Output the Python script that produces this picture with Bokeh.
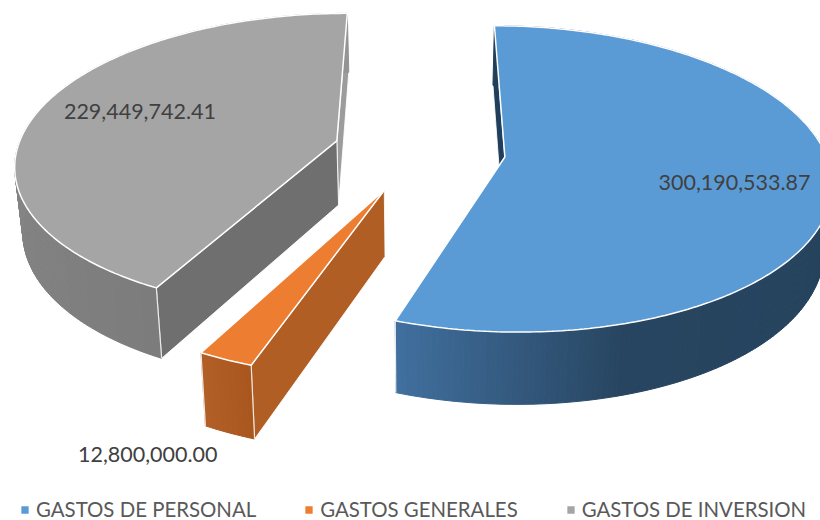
import numpy as np
from bokeh.plotting import figure
from bokeh.models import Range1d, Legend, LegendItem
from bokeh.core.properties import value
from bokeh.embed import file_html
from bokeh.resources import INLINE

categories = ["GASTOS DE PERSONAL", "GASTOS GENERALES", "GASTOS DE INVERSION"]
amounts = [300190533.87, 12800000.00, 229449742.41]
top_colors = ["#5B9BD5", "#ED7D31", "#A5A5A5"]
wall_stops = [
    [(0.0, "#233F57"), (0.82, "#274560"), (1.0, "#41709F")],
    [(0.0, "#A8571F"), (1.0, "#B25F26")],
    [(0.0, "#7C7C7C"), (1.0, "#949494")],
]
start_face = ["#1F3F5C", "#B05E24", "#6F6F6F"]
end_face = ["#233F57", "#A8571F", "#9C9C9C"]

# view of the 3-D pie
XC, YC, R, K, P, Q, D = 421.0, 150.0, 320.0, 0.463, 0.142, 0.02, 66.0
START = 0.0
EXPLODE = [84.0, 90.0, 88.0]
LABEL_RADIUS = [0.71, 1.44, 0.68]
LABEL_ROT = [4.0, -1.0, 4.0]


def project(X, V, h=0.0):
    X, V = np.asarray(X, float), np.asarray(V, float)
    s = (1 - Q * h) / (1 + P * V / R)
    return XC + X * s, YC + (-K * V + D * h) * s


def hex_rgb(c):
    return np.array([int(c[i:i + 2], 16) for i in (1, 3, 5)], float)


def shade(stops, t):
    fr = [a for a, _ in stops]
    rgb = [np.interp(t, fr, [hex_rgb(c)[i] for _, c in stops]) for i in range(3)]
    return "#%02x%02x%02x" % tuple(int(round(v)) for v in rgb)


p = figure(width=820, height=520, x_range=Range1d(0, 820), y_range=Range1d(520, 0),
           x_axis_type=None, y_axis_type=None, toolbar_location=None,
           output_backend="svg", min_border=0, outline_line_color=None)
p.grid.visible = False
p.styles = {"position": "absolute", "left": "0", "top": "0"}

total = sum(amounts)
sweeps = [a / total * 360 for a in amounts]
starts = START + np.concatenate([[0], np.cumsum(sweeps)[:-1]])
legend_items = []

for i, cat in enumerate(categories):
    a1, a2 = np.radians(starts[i]), np.radians(starts[i] + sweeps[i])
    mid = (a1 + a2) / 2
    ox, ov = EXPLODE[i] * np.sin(mid), EXPLODE[i] * np.cos(mid)
    th = np.linspace(a1, a2, max(8, int(sweeps[i] * 1.2)))
    rx, rv = ox + R * np.sin(th), ov + R * np.cos(th)

    for ang, face in ((a2, end_face[i]), (a1, start_face[i])):
        fx, fv = ox + R * np.sin(ang), ov + R * np.cos(ang)
        tx0, ty0 = project(ox, ov)
        tx1, ty1 = project(fx, fv)
        bx0, by0 = project(ox, ov, 1)
        bx1, by1 = project(fx, fv, 1)
        p.patch([tx0, tx1, bx1, bx0], [ty0, ty1, by1, by0], fill_color=face,
                line_color="white", line_width=1, line_alpha=0.85)

    tx, ty = project(rx, rv)
    bx, by = project(rx, rv, 1)
    sx = [[tx[j], tx[j + 1], bx[j + 1], bx[j]] for j in range(len(th) - 1)]
    sy = [[ty[j], ty[j + 1], by[j + 1], by[j]] for j in range(len(th) - 1)]
    cols = [shade(wall_stops[i], (j + 0.5) / (len(th) - 1)) for j in range(len(th) - 1)]
    p.patches(sx, sy, fill_color=cols, line_color=cols, line_width=1)

    ax, ay = project(ox, ov)
    for ang in (a1, a2):
        cx0, cy0 = project(ox + R * np.sin(ang), ov + R * np.cos(ang))
        cx1, cy1 = project(ox + R * np.sin(ang), ov + R * np.cos(ang), 1)
        if cy0 > YC + 100 and not (i == 0 and ang == a1):
            p.line([cx0, cx1], [cy0, cy1], line_color="white", line_width=1.2, line_alpha=0.85)

    top = p.patch(np.concatenate([[ax], tx]), np.concatenate([[ay], ty]),
                  fill_color=top_colors[i], line_color="white", line_width=1.5)
    legend_items.append(LegendItem(label=cat, renderers=[top]))

for i in range(len(amounts)):
    mid = np.radians(starts[i] + sweeps[i] / 2)
    ox, ov = EXPLODE[i] * np.sin(mid), EXPLODE[i] * np.cos(mid)
    la = mid + np.radians(LABEL_ROT[i])
    lx, ly = project(ox + LABEL_RADIUS[i] * R * np.sin(la), ov + LABEL_RADIUS[i] * R * np.cos(la))
    p.text([float(lx)], [float(ly)], text=[f"{amounts[i]:,.2f}"], text_align="center",
           text_baseline="middle", text_font=value("Lato"), text_font_size="21.5px",
           text_color="#404040")

legend = Legend(items=legend_items, orientation="horizontal", location=(19, -1), spacing=47,
                glyph_width=11, glyph_height=11, label_standoff=6, padding=0, margin=0,
                background_fill_alpha=0, border_line_alpha=0,
                label_text_font="Lato", label_text_font_size="20.4px", label_text_color="#595959")
p.add_layout(legend, "center")

open("out.html", "w").write(file_html(p, INLINE))
